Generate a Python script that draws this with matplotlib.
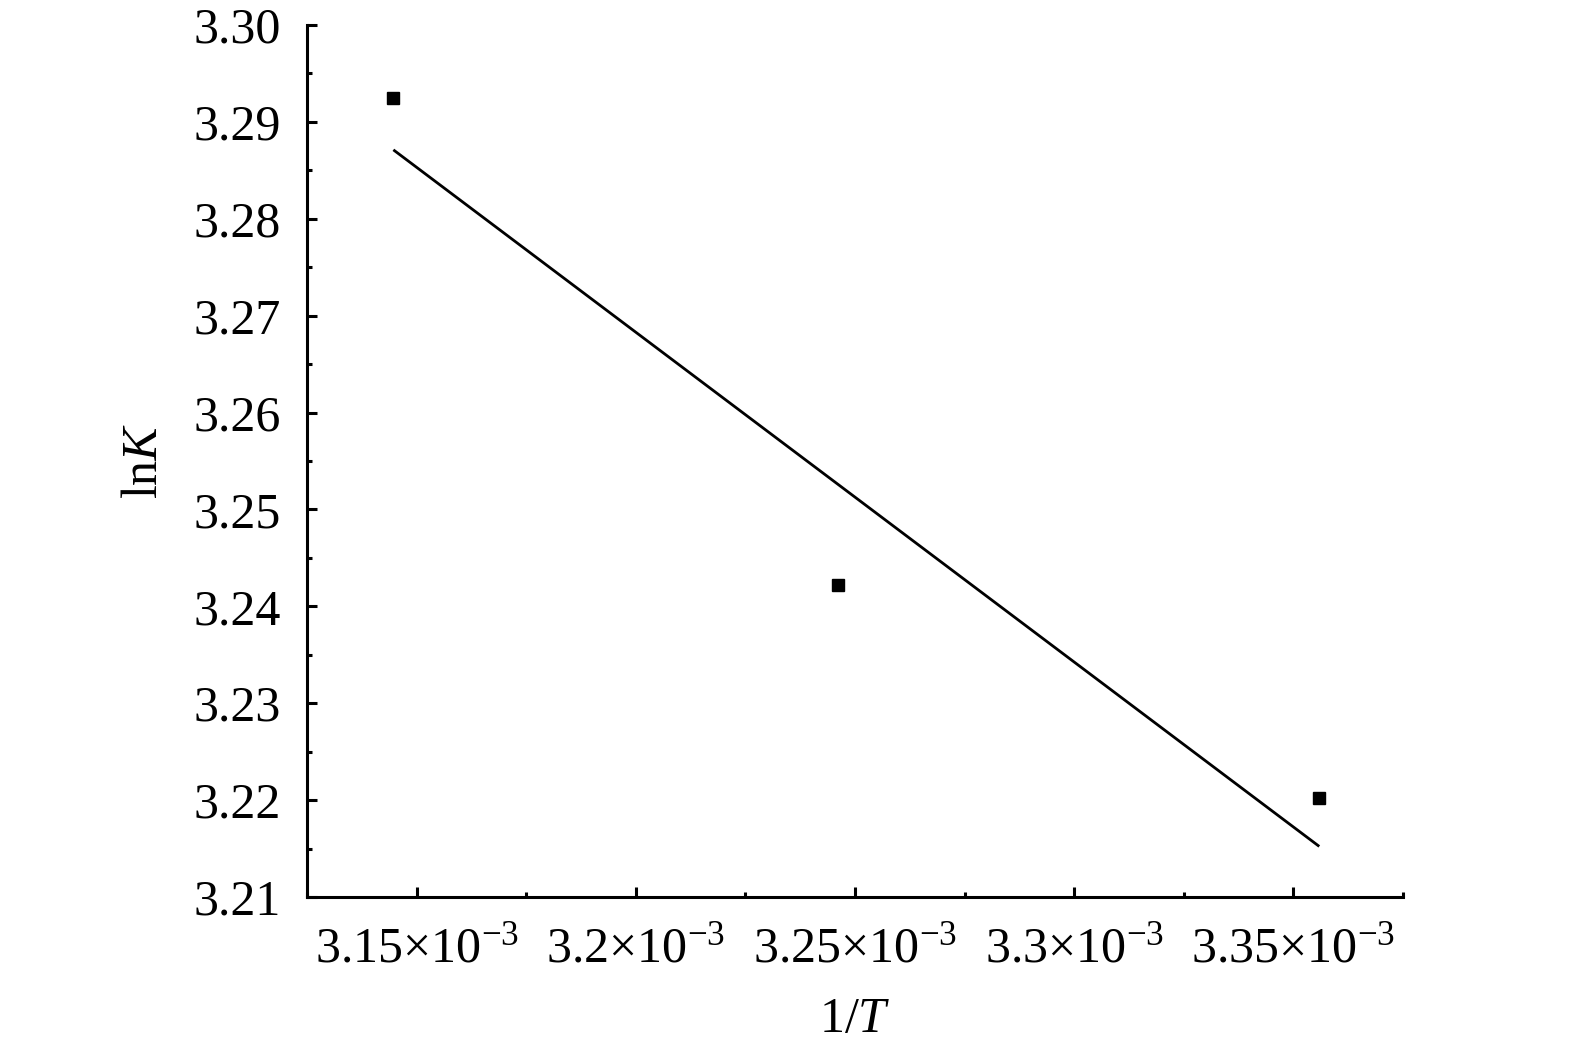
import numpy as np
import matplotlib
matplotlib.use("Agg")
import matplotlib.pyplot as plt
from matplotlib.ticker import FixedLocator, FixedFormatter

plt.rcParams['font.family'] = ['Liberation Serif', 'DejaVu Serif']
plt.rcParams['mathtext.fontset'] = 'custom'
plt.rcParams['mathtext.rm'] = 'Liberation Serif'
plt.rcParams['mathtext.it'] = 'Liberation Serif:italic'

# data
inv_T = [3.1447e-3, 3.2462e-3, 3.3559e-3]
lnK = [3.2925, 3.2422, 3.2202]
x_ticks = [3.15e-3, 3.20e-3, 3.25e-3, 3.30e-3, 3.35e-3]
x_tick_labels = ['3.15×10$^{\u2212 3}$', '3.2×10$^{\u2212 3}$', '3.25×10$^{\u2212 3}$',
                 '3.3×10$^{\u2212 3}$', '3.35×10$^{\u2212 3}$']
y_ticks = [3.21, 3.22, 3.23, 3.24, 3.25, 3.26, 3.27, 3.28, 3.29, 3.30]
y_tick_labels = ['3.21', '3.22', '3.23', '3.24', '3.25', '3.26', '3.27', '3.28', '3.29', '3.30']

fig = plt.figure(figsize=(15.72, 10.40), dpi=100)
ax = fig.add_axes([307/1572, 1-897/1040, (1403-307)/1572, (897-25)/1040])

x = np.array(inv_T)
y = np.array(lnK)
k, b = np.polyfit(x, y, 1)
xf = np.array([x.min(), x.max()])
ax.plot(xf, k*xf + b, color='black', lw=2.0, solid_capstyle='butt')
ax.plot(x, y, 's', color='black', ms=9, mec='black')

ax.set_xlim(3.125e-3, 3.375e-3)
ax.set_ylim(3.21, 3.30)
ax.xaxis.set_major_locator(FixedLocator(x_ticks))
ax.xaxis.set_major_formatter(FixedFormatter(x_tick_labels))
ax.xaxis.set_minor_locator(FixedLocator([3.125e-3, 3.175e-3, 3.225e-3, 3.275e-3, 3.325e-3, 3.375e-3]))
ax.yaxis.set_major_locator(FixedLocator(y_ticks))
ax.yaxis.set_major_formatter(FixedFormatter(y_tick_labels))
ax.yaxis.set_minor_locator(FixedLocator([3.215, 3.225, 3.235, 3.245, 3.255, 3.265, 3.275, 3.285, 3.295]))

for s in ['top', 'right']:
    ax.spines[s].set_visible(False)
for s in ['left', 'bottom']:
    ax.spines[s].set_linewidth(2.2)

ax.tick_params(which='major', direction='in', length=7, width=2.2, labelsize=36, color='black')
ax.tick_params(which='minor', direction='in', length=3.5, width=2.2, color='black')
ax.tick_params(axis='x', which='major', pad=21)
ax.tick_params(axis='y', which='major', pad=19)

ax.set_xlabel(r'$1/T$', fontsize=36, labelpad=17)
ax.set_ylabel(r'$\mathrm{ln}K$', fontsize=36, labelpad=18)

fig.savefig('out.png', dpi=100)
